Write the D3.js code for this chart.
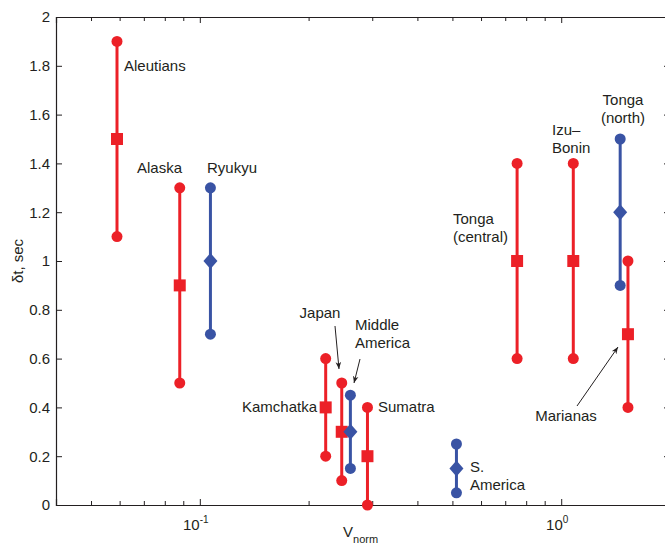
<!DOCTYPE html>
<html>
<head>
  <meta charset="UTF-8">
  <title>dt vs Vnorm</title>
  <script src="https://d3js.org/d3.v7.min.js"></script>
  <style>
    body { margin: 0; background: #fff; }
    text { font-family: "Liberation Sans", Arial, Helvetica, sans-serif; fill: #231f20; }
  </style>
</head>
<body>
<div id="chart"></div>
<script>
// zones
const zones   = ["Aleutians", "Alaska", "Ryukyu", "Kamchatka", "Japan", "Middle America", "Sumatra", "S. America", "Tonga (central)", "Izu-Bonin", "Tonga (north)", "Marianas"];
const vnorm   = [0.059, 0.088, 0.107, 0.223, 0.247, 0.261, 0.291, 0.513, 0.755, 1.08, 1.456, 1.53];
const dtLow   = [1.1, 0.5, 0.7, 0.2, 0.1, 0.15, 0.0, 0.05, 0.6, 0.6, 0.9, 0.4];
const dtMid   = [1.5, 0.9, 1.0, 0.4, 0.3, 0.3, 0.2, 0.15, 1.0, 1.0, 1.2, 0.7];
const dtHigh  = [1.9, 1.3, 1.3, 0.6, 0.5, 0.45, 0.4, 0.25, 1.4, 1.4, 1.5, 1.0];
const group   = ["red", "red", "blue", "red", "red", "blue", "red", "blue", "red", "red", "blue", "red"];

const yTicks = [0, 0.2, 0.4, 0.6, 0.8, 1, 1.2, 1.4, 1.6, 1.8, 2];
const xMajor = [0.1, 1];
const xMinor = [0.04, 0.05, 0.06, 0.07, 0.08, 0.09, 0.2, 0.3, 0.4, 0.5, 0.6, 0.7, 0.8, 0.9, 2];

const data = zones.map((z, i) => ({ zone: z, v: vnorm[i], lo: dtLow[i], mid: dtMid[i], hi: dtHigh[i], g: group[i] }));

const W = 665, H = 546;
const pLeft = 56, pRight = 670, pTop = 17, pBottom = 505;
const colors = { red: "#ec2027", blue: "#3953a4" };
const fs = "15px";

const svg = d3.select("#chart").append("svg")
  .attr("width", W).attr("height", H);

const x = d3.scaleLog().domain([0.04, 2]).range([pLeft, pRight]);
const y = d3.scaleLinear().domain([0, 2]).range([pBottom, pTop]);

// axes, ticks inward like matlab
svg.append("g").attr("transform", "translate(0," + pBottom + ")")
  .call(d3.axisBottom(x).tickValues(xMajor).tickSize(-6).tickFormat(""))
  .selectAll(".tick text").remove();
svg.append("g").attr("transform", "translate(0," + pBottom + ")")
  .call(d3.axisBottom(x).tickValues(xMinor).tickSize(-4).tickFormat(""))
  .select(".domain").remove();
svg.append("g").attr("transform", "translate(0," + pTop + ")")
  .call(d3.axisTop(x).tickValues(xMajor).tickSize(-6).tickFormat(""));
svg.append("g").attr("transform", "translate(0," + pTop + ")")
  .call(d3.axisTop(x).tickValues(xMinor).tickSize(-4).tickFormat(""))
  .select(".domain").remove();

svg.append("g").attr("transform", "translate(" + pLeft + ",0)")
  .call(d3.axisLeft(y).tickValues(yTicks).tickSize(-6).tickPadding(6).tickFormat(d3.format("~g")));
svg.append("g").attr("transform", "translate(" + pRight + ",0)")
  .call(d3.axisRight(y).tickValues(yTicks).tickSize(-6).tickFormat(""));

svg.selectAll(".domain").attr("stroke", "#231f20").attr("stroke-width", 1.2);
svg.selectAll(".tick line").attr("stroke", "#231f20");
svg.selectAll(".tick text").style("font-size", fs).attr("fill", "#231f20");

// 10^-1, 10^0 labels
const xl = svg.selectAll(".xlab").data(xMajor).enter().append("text")
  .attr("class", "xlab")
  .attr("x", d => x(d) - 4)
  .attr("y", pBottom + 25)
  .attr("text-anchor", "middle")
  .style("font-size", fs);
xl.append("tspan").text("10");
xl.append("tspan").attr("dy", -7).style("font-size", "10px").text(d => Math.round(Math.log10(d)));

// axis titles
svg.append("text")
  .attr("transform", "translate(23," + ((pTop + pBottom) / 2) + ") rotate(-90)")
  .attr("text-anchor", "middle")
  .style("font-size", fs)
  .text("δt, sec");
const vt = svg.append("text")
  .attr("x", 343).attr("y", 537)
  .style("font-size", fs);
vt.append("tspan").text("V");
vt.append("tspan").attr("dy", 6).style("font-size", "11px").text("norm");

// error bars
const bars = svg.append("g").selectAll("g").data(data).enter().append("g")
  .attr("fill", d => colors[d.g]).attr("stroke", d => colors[d.g]);

bars.append("line")
  .attr("x1", d => x(d.v)).attr("x2", d => x(d.v))
  .attr("y1", d => y(d.lo)).attr("y2", d => y(d.hi))
  .attr("stroke-width", 3);
bars.append("circle").attr("cx", d => x(d.v)).attr("cy", d => y(d.lo)).attr("r", 5.5).attr("stroke", "none");
bars.append("circle").attr("cx", d => x(d.v)).attr("cy", d => y(d.hi)).attr("r", 5.5).attr("stroke", "none");
bars.append("path")
  .attr("transform", d => "translate(" + x(d.v) + "," + y(d.mid) + ")")
  .attr("d", d => d.g === "red" ? "M-6,-6H6V6H-6Z" : "M0,-8L7,0L0,8L-7,0Z")
  .attr("stroke", "none");

// zone labels
const labels = [
  { lines: ["Aleutians"], x: 124, y: 71, anchor: "start" },
  { lines: ["Alaska"], x: 137, y: 173, anchor: "start" },
  { lines: ["Ryukyu"], x: 207, y: 173, anchor: "start" },
  { lines: ["Japan"], x: 320, y: 318, anchor: "middle" },
  { lines: ["Middle", "America"], x: 355, y: 330, anchor: "start" },
  { lines: ["Kamchatka"], x: 317, y: 412, anchor: "end" },
  { lines: ["Sumatra"], x: 378, y: 412, anchor: "start" },
  { lines: ["S.", "America"], x: 470, y: 472, anchor: "start" },
  { lines: ["Tonga", "(central)"], x: 453, y: 224, anchor: "start" },
  { lines: ["Izu–", "Bonin"], x: 552, y: 135, anchor: "start" },
  { lines: ["Tonga", "(north)"], x: 623, y: 105, anchor: "middle" },
  { lines: ["Marianas"], x: 566, y: 421, anchor: "middle" }
];
labels.forEach(l => {
  const t = svg.append("text").attr("text-anchor", l.anchor).style("font-size", fs);
  l.lines.forEach((s, i) => t.append("tspan").attr("x", l.x).attr("y", l.y + i * 18).text(s));
});

// arrows
const defs = svg.append("defs");
defs.append("marker").attr("id", "ah").attr("viewBox", "0 0 10 10")
  .attr("refX", 10).attr("refY", 5).attr("markerWidth", 7).attr("markerHeight", 7)
  .attr("orient", "auto")
  .append("path").attr("d", "M0,1L10,5L0,9L3,5Z").attr("fill", "#231f20");
const arrows = [[335, 326, 339, 369], [360, 359, 354, 383], [577, 406, 618, 347]];
svg.selectAll(".arr").data(arrows).enter().append("line")
  .attr("x1", d => d[0]).attr("y1", d => d[1]).attr("x2", d => d[2]).attr("y2", d => d[3])
  .attr("stroke", "#231f20").attr("stroke-width", 1).attr("marker-end", "url(#ah)");
</script>
</body>
</html>
